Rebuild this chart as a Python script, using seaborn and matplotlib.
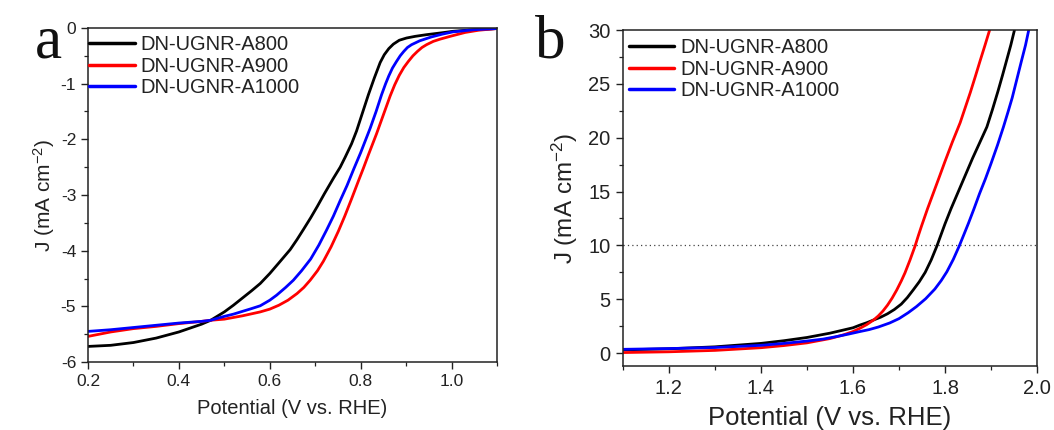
import numpy as np
import pandas as pd
import matplotlib
matplotlib.use("Agg")
import matplotlib.pyplot as plt
from matplotlib.ticker import MultipleLocator, FormatStrFormatter
import seaborn as sns

# ---------------- data ----------------
samples = ["DN-UGNR-A800", "DN-UGNR-A900", "DN-UGNR-A1000"]
colors = ["#000000", "#ff0000", "#0000ff"]

# Panel a (ORR LSV)
a800_x = [0.20, 0.25, 0.30, 0.35, 0.40, 0.45, 0.47, 0.50, 0.52, 0.54, 0.56, 0.579, 0.60, 0.62, 0.645,
          0.66, 0.674, 0.69, 0.705, 0.72, 0.74, 0.755, 0.766, 0.78, 0.791, 0.805, 0.817, 0.83, 0.843,
          0.852, 0.862, 0.872, 0.885, 0.901, 0.92, 0.945, 0.975, 1.003, 1.05, 1.10]
a800_y = [-5.72, -5.70, -5.65, -5.57, -5.46, -5.32, -5.25, -5.10, -4.98, -4.85, -4.72, -4.59, -4.41, -4.22, -3.98,
          -3.80, -3.62, -3.41, -3.20, -2.98, -2.70, -2.50, -2.32, -2.08, -1.85, -1.50, -1.20, -0.90, -0.62,
          -0.48, -0.37, -0.29, -0.22, -0.18, -0.15, -0.12, -0.09, -0.06, -0.03, -0.01]

a900_x = [0.20, 0.25, 0.30, 0.35, 0.40, 0.45, 0.47, 0.50, 0.54, 0.579, 0.60, 0.62, 0.64, 0.66, 0.675,
          0.689, 0.705, 0.718, 0.735, 0.751, 0.765, 0.78, 0.795, 0.806, 0.817, 0.835, 0.85, 0.865, 0.875,
          0.885, 0.895, 0.905, 0.915, 0.925, 0.935, 0.945, 0.96, 0.975, 0.997, 1.03, 1.06, 1.10]
a900_y = [-5.54, -5.46, -5.40, -5.36, -5.31, -5.27, -5.25, -5.23, -5.17, -5.10, -5.05, -4.98, -4.89, -4.77, -4.66,
          -4.53, -4.36, -4.19, -3.93, -3.65, -3.38, -3.07, -2.75, -2.52, -2.28, -1.90, -1.56, -1.22, -1.02,
          -0.85, -0.71, -0.60, -0.50, -0.42, -0.35, -0.30, -0.24, -0.20, -0.15, -0.08, -0.04, -0.01]

a1000_x = [0.20, 0.25, 0.30, 0.35, 0.40, 0.45, 0.47, 0.50, 0.52, 0.54, 0.56, 0.579, 0.60, 0.615, 0.635,
           0.652, 0.67, 0.69, 0.708, 0.725, 0.74, 0.755, 0.77, 0.785, 0.80, 0.81, 0.821, 0.834, 0.846,
           0.855, 0.862, 0.87, 0.879, 0.887, 0.895, 0.903, 0.912, 0.93, 0.956, 0.98, 1.003, 1.05, 1.10]
a1000_y = [-5.45, -5.42, -5.38, -5.34, -5.30, -5.27, -5.25, -5.18, -5.14, -5.09, -5.04, -4.99, -4.89, -4.80, -4.66,
           -4.53, -4.36, -4.15, -3.90, -3.63, -3.38, -3.10, -2.83, -2.53, -2.24, -2.03, -1.80, -1.50, -1.20,
           -1.00, -0.86, -0.72, -0.60, -0.50, -0.42, -0.35, -0.30, -0.23, -0.16, -0.11, -0.07, -0.03, -0.01]

# Panel b (OER LSV)
b800_x = [1.10, 1.20, 1.30, 1.40, 1.45, 1.50, 1.55, 1.60, 1.615, 1.63, 1.645, 1.66, 1.675, 1.69, 1.705,
          1.718, 1.731, 1.744, 1.757, 1.77, 1.782, 1.791, 1.80, 1.813, 1.827, 1.843, 1.86, 1.875, 1.891,
          1.903, 1.915, 1.925, 1.934, 1.943, 1.951]
b800_y = [0.30, 0.40, 0.58, 0.90, 1.15, 1.45, 1.85, 2.35, 2.60, 2.82, 3.08, 3.33, 3.65, 4.05, 4.55,
          5.15, 5.87, 6.62, 7.50, 8.65, 9.90, 10.95, 12.0, 13.4, 14.8, 16.4, 18.1, 19.5, 21.0,
          22.6, 24.3, 25.8, 27.2, 28.6, 30.0]

b900_x = [1.10, 1.20, 1.30, 1.40, 1.45, 1.50, 1.55, 1.58, 1.60, 1.615, 1.63, 1.645, 1.655, 1.665, 1.675,
          1.685, 1.695, 1.705, 1.713, 1.724, 1.735, 1.742, 1.749, 1.762, 1.775, 1.788, 1.80, 1.816, 1.833,
          1.844, 1.855, 1.866, 1.876, 1.887, 1.897]
b900_y = [0.05, 0.12, 0.25, 0.50, 0.70, 0.95, 1.35, 1.70, 2.00, 2.30, 2.65, 3.08, 3.45, 3.90, 4.45,
          5.10, 5.85, 6.70, 7.45, 8.65, 9.95, 10.9, 11.8, 13.4, 14.9, 16.4, 17.8, 19.6, 21.4,
          22.8, 24.2, 25.7, 27.1, 28.6, 30.0]

b1000_x = [1.10, 1.20, 1.30, 1.40, 1.45, 1.50, 1.535, 1.565, 1.59, 1.615, 1.635, 1.655, 1.68, 1.70, 1.72,
           1.738, 1.758, 1.778, 1.792, 1.804, 1.818, 1.831, 1.841, 1.851, 1.863, 1.875, 1.888, 1.90, 1.914,
           1.927, 1.937, 1.946, 1.956, 1.966, 1.975, 1.982]
b1000_y = [0.35, 0.42, 0.52, 0.72, 0.90, 1.12, 1.30, 1.54, 1.76, 2.00, 2.18, 2.42, 2.80, 3.20, 3.75,
           4.32, 5.05, 5.95, 6.75, 7.55, 8.70, 9.95, 11.0, 12.06, 13.4, 14.8, 16.2, 17.6, 19.3,
           21.0, 22.4, 23.7, 25.4, 27.1, 28.6, 30.0]

ref_current = 10

xticks_a = [0.2, 0.4, 0.6, 0.8, 1.0]
yticks_a = [0, -1, -2, -3, -4, -5, -6]
xticks_b = [1.2, 1.4, 1.6, 1.8, 2.0]
yticks_b = [0, 5, 10, 15, 20, 25, 30]


def long_df(xs, ys):
    parts = []
    for name, x, y in zip(samples, xs, ys):
        parts.append(pd.DataFrame({"Potential": x, "J": y, "Sample": name}))
    return pd.concat(parts, ignore_index=True)


df_a = long_df([a800_x, a900_x, a1000_x], [a800_y, a900_y, a1000_y])
df_b = long_df([b800_x, b900_x, b1000_x], [b800_y, b900_y, b1000_y])

# ---------------- style ----------------
sns.set_style("ticks")
plt.rcParams["font.family"] = ["Liberation Sans", "DejaVu Sans"]
plt.rcParams["mathtext.fontset"] = "custom"
plt.rcParams["mathtext.rm"] = "Liberation Sans"
plt.rcParams["mathtext.default"] = "regular"
plt.rcParams["axes.unicode_minus"] = False
plt.rcParams["axes.linewidth"] = 1.1
plt.rcParams["axes.edgecolor"] = "#222222"

fig = plt.figure(figsize=(10.54, 4.30), dpi=100)
ax1 = fig.add_axes([0.0835, 0.1581, 0.388, 0.7768])
ax2 = fig.add_axes([0.591, 0.1488, 0.3929, 0.7814])

palette = dict(zip(samples, colors))

for ax, df in [(ax1, df_a), (ax2, df_b)]:
    sns.lineplot(data=df, x="Potential", y="J", hue="Sample", hue_order=samples,
                 palette=palette, estimator=None, sort=False, lw=2.0, ax=ax)

ax2.axhline(ref_current, color="#444444", lw=0.9, linestyle=(0, (1, 2.5)), zorder=0)

# Panel a axes
ax1.set_xlim(0.2, 1.1)
ax1.set_ylim(-6, 0)
ax1.set_xticks(xticks_a)
ax1.set_yticks(yticks_a)
ax1.xaxis.set_major_formatter(FormatStrFormatter("%.1f"))
ax1.xaxis.set_minor_locator(MultipleLocator(0.1))
ax1.yaxis.set_minor_locator(MultipleLocator(0.5))
ax1.tick_params(axis="both", which="major", labelsize=12.5, length=5, width=1.0,
                direction="out", pad=3.5, colors="#222222", labelcolor="#222222")
ax1.tick_params(axis="both", which="minor", length=3, width=0.9, direction="out", colors="#222222")
ax1.set_xlabel("Potential (V vs. RHE)", fontsize=14.5, color="#222222", labelpad=7)
ax1.set_ylabel("J (mA cm$^{-2}$)", fontsize=15, color="#222222", labelpad=3)

# Panel b axes
ax2.set_xlim(1.1, 2.0)
ax2.set_ylim(-1.2, 30)
ax2.set_xticks(xticks_b)
ax2.set_yticks(yticks_b)
ax2.xaxis.set_major_formatter(FormatStrFormatter("%.1f"))
ax2.xaxis.set_minor_locator(MultipleLocator(0.1))
ax2.yaxis.set_minor_locator(MultipleLocator(2.5))
ax2.tick_params(axis="both", which="major", labelsize=14.5, length=5, width=1.0,
                direction="out", pad=4, colors="#222222", labelcolor="#222222")
ax2.tick_params(axis="both", which="minor", length=3, width=0.9, direction="out", colors="#222222")
ax2.set_xlabel("Potential (V vs. RHE)", fontsize=18.5, color="#222222", labelpad=6)
ax2.set_ylabel("J (mA cm$^{-2}$)", fontsize=17.5, color="#222222", labelpad=6)

for ax in (ax1, ax2):
    for s in ax.spines.values():
        s.set_visible(True)

# legends
for ax, anchor in [(ax1, (0.003, 0.978)), (ax2, (0.015, 0.975))]:
    handles, labels = ax.get_legend_handles_labels()
    for h in handles:
        h.set_linewidth(2.5)
    ax.legend(handles, labels, loc="upper left", bbox_to_anchor=anchor, frameon=False,
              fontsize=14.5, handlelength=2.25, handletextpad=0.3, labelspacing=0.12,
              borderpad=0, borderaxespad=0)
    for t in ax.get_legend().get_texts():
        t.set_color("#222222")

# panel letters
fig.text(35 / 1054, 1 - 57 / 430, "a", family=["Liberation Serif", "DejaVu Serif"],
         fontsize=44, va="baseline", ha="left", color="#111111")
fig.text(535 / 1054, 1 - 57 / 430, "b", family=["Liberation Serif", "DejaVu Serif"],
         fontsize=44, va="baseline", ha="left", color="#111111")

fig.savefig("out.png", dpi=100)
